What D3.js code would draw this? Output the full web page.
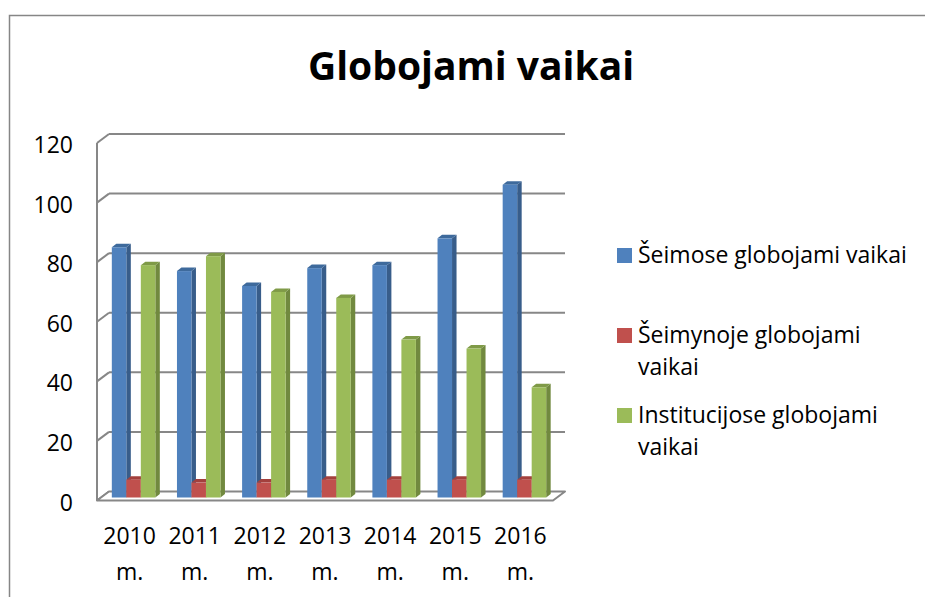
<!DOCTYPE html>
<html>
<head>
<meta charset="utf-8">
<script src="https://cdn.jsdelivr.net/npm/d3@7"></script>
<style>
  body { margin: 0; background: #fff; }
  text { font-family: "Open Sans", Lato, sans-serif; fill: #000; }
</style>
</head>
<body>
<div id="chart"></div>
<script>
// data
let years = ["2010", "2011", "2012", "2013", "2014", "2015", "2016"];
let seimose = [84, 76, 71, 77, 78, 87, 105];
let seimynoje = [6, 5, 5, 6, 6, 6, 6];
let institucijose = [78, 81, 69, 67, 53, 50, 37];
let seriesNames = ["Šeimose globojami vaikai", "Šeimynoje globojami vaikai", "Institucijose globojami vaikai"];
let yTicks = [0, 20, 40, 60, 80, 100, 120];

let width = 925, height = 597;

// colours for front, side, top of each series
let colors = [
    {front: "#4f81bd", side: "#385d8a", top: "#3e6a9c"},
    {front: "#c0504d", side: "#8c3836", top: "#a3403d"},
    {front: "#9bbb59", side: "#71893f", top: "#7f9a47"}
];

let svg = d3.select("#chart").append("svg")
    .attr("width", width)
    .attr("height", height);

// outer chart frame
svg.append("rect")
    .attr("x", 9.5).attr("y", 15.5)
    .attr("width", 940).attr("height", 620)
    .attr("fill", "none")
    .attr("stroke", "#868686")
    .attr("stroke-width", 1.5);

// title
svg.append("text")
    .attr("x", 471).attr("y", 80)
    .attr("text-anchor", "middle")
    .style("font-weight", "bold")
    .style("font-size", "39px")
    .text("Globojami vaikai");

// 3D box: front plane and back plane offsets
let front = {left: 97, right: 553};
let depth = {dx: 12, dy: -9};

let yFront = d3.scaleLinear().domain([0, 120]).range([500.5, 143]);
let yBack = v => yFront(v) + depth.dy;
let yBar = v => yFront(v) + depth.dy / 3;

let x0 = d3.scaleBand().domain(years).range([front.left, front.right]);
let barW = 14.5;
let x1 = d3.scaleBand().domain([0, 1, 2]).range([0, barW * 3]);
let groupPad = (x0.bandwidth() - barW * 3) / 2;

let grid = svg.append("g");
let gridColor = "#878787";

// back wall grid lines and left wall diagonals
yTicks.forEach(function (v) {
    if (v > 0) {
        grid.append("line")
            .attr("x1", front.left + depth.dx).attr("y1", yBack(v))
            .attr("x2", front.right + depth.dx).attr("y2", yBack(v))
            .attr("stroke", gridColor).attr("stroke-width", 2);
    }
    grid.append("line")
        .attr("x1", front.left).attr("y1", yFront(v))
        .attr("x2", front.left + depth.dx).attr("y2", yBack(v))
        .attr("stroke", gridColor).attr("stroke-width", 2);
});

// left wall edge
grid.append("line")
    .attr("x1", front.left).attr("y1", yFront(120))
    .attr("x2", front.left).attr("y2", yFront(0))
    .attr("stroke", gridColor).attr("stroke-width", 2);

// floor
grid.append("path")
    .attr("d", "M" + front.left + "," + yFront(0) +
        "L" + (front.left + depth.dx) + "," + yBack(0) +
        "L" + (front.right + depth.dx) + "," + yBack(0) +
        "L" + front.right + "," + yFront(0) + "Z")
    .attr("fill", "#fff")
    .attr("stroke", gridColor).attr("stroke-width", 2)
    .attr("stroke-linejoin", "round");

// y tick labels
svg.append("g").selectAll("text")
    .data(yTicks)
    .enter().append("text")
    .attr("x", 73)
    .attr("y", d => yFront(d) + 2)
    .attr("dy", "0.35em")
    .attr("text-anchor", "end")
    .style("font-size", "23px")
    .text(d => d);

// bars
let allSeries = [seimose, seimynoje, institucijose];
let bd = {dx: 4.5, dy: -3.5};
let bars = svg.append("g");

years.forEach(function (yr, i) {
    allSeries.forEach(function (vals, s) {
        let v = vals[i];
        let xl = x0(yr) + groupPad + x1(s) + depth.dx / 3;
        let xr = xl + barW;
        let yt = yBar(v), yb = yBar(0);
        let c = colors[s];
        let g = bars.append("g");
        g.append("path")
            .attr("d", "M" + xr + "," + yt + "L" + (xr + bd.dx) + "," + (yt + bd.dy) +
                "L" + (xr + bd.dx) + "," + (yb + bd.dy) + "L" + xr + "," + yb + "Z")
            .attr("fill", c.side);
        g.append("path")
            .attr("d", "M" + xl + "," + yt + "L" + (xl + bd.dx) + "," + (yt + bd.dy) +
                "L" + (xr + bd.dx) + "," + (yt + bd.dy) + "L" + xr + "," + yt + "Z")
            .attr("fill", c.top);
        g.append("rect")
            .attr("x", xl).attr("y", yt)
            .attr("width", barW).attr("height", yb - yt)
            .attr("fill", c.front);
    });
});

// x labels, two lines each
let xl = svg.append("g").selectAll("text")
    .data(years)
    .enter().append("text")
    .attr("text-anchor", "middle")
    .style("font-size", "23px");
xl.append("tspan")
    .attr("x", d => x0(d) + x0.bandwidth() / 2)
    .attr("y", 544)
    .text(d => d);
xl.append("tspan")
    .attr("x", d => x0(d) + x0.bandwidth() / 2)
    .attr("y", 580)
    .text("m.");

// legend
let legendLines = [["Šeimose globojami vaikai"], ["Šeimynoje globojami", "vaikai"], ["Institucijose globojami", "vaikai"]];
let legendY = [255, 335, 415];
let legend = svg.append("g");
legendLines.forEach(function (lines, s) {
    legend.append("rect")
        .attr("x", 617).attr("y", legendY[s] - 7)
        .attr("width", 15).attr("height", 15)
        .attr("fill", colors[s].front);
    lines.forEach(function (t, k) {
        legend.append("text")
            .attr("x", 638)
            .attr("y", legendY[s] + k * 32)
            .attr("dy", "0.35em")
            .style("font-size", "23px")
            .text(t);
    });
});
</script>
</body>
</html>
